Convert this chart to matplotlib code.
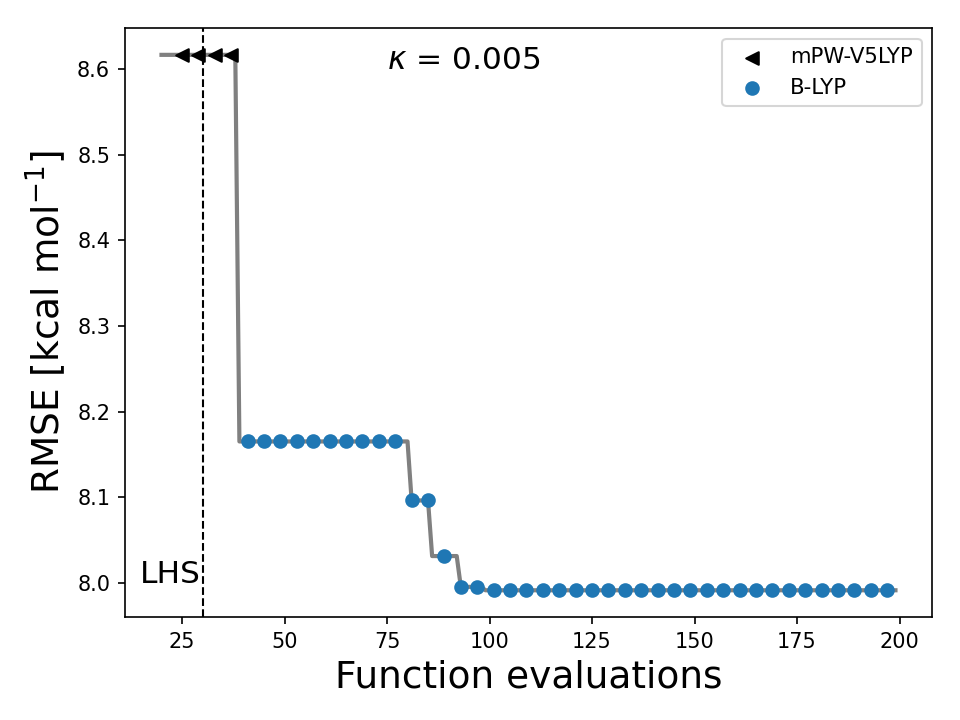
import numpy as np
import matplotlib
matplotlib.use("Agg")
import matplotlib.pyplot as plt

# best-so-far RMSE at each function evaluation (20..199)
evals = list(range(20, 200))
level_starts = [20, 39, 81, 86, 93, 99]
level_values = [8.617, 8.165, 8.096, 8.031, 7.995, 7.991]

rmse = []
for e in evals:
    v = level_values[0]
    for s, val in zip(level_starts, level_values):
        if e >= s:
            v = val
    rmse.append(v)

# markers every 4th evaluation
mpw_x = [25, 29, 33, 37]
blyp_x = list(range(41, 198, 4))

lhs_end = 30
kappa = 0.005

fig, ax = plt.subplots(figsize=(6.4, 4.8), dpi=150)
ax.plot(evals, rmse, color='gray', lw=2, zorder=1)
ax.scatter(mpw_x, [rmse[evals.index(x)] for x in mpw_x], marker='<', color='k',
           label='mPW-V5LYP', zorder=2)
ax.scatter(blyp_x, [rmse[evals.index(x)] for x in blyp_x], marker='o', color='C0',
           label='B-LYP', zorder=2)
ax.axvline(lhs_end, color='k', ls='--', lw=1)
ax.text(lhs_end - 0.5, 8.0, 'LHS', ha='right', fontsize=15)
ax.text(75, 8.6, r'$\kappa$ = %s' % kappa, fontsize=15)
ax.set_xlabel('Function evaluations', fontsize=18)
ax.set_ylabel(r'RMSE [kcal mol$^{-1}$]', fontsize=18)
ax.legend(loc='upper right', fontsize=10.2)
plt.subplots_adjust(left=0.130, right=0.971, top=0.961, bottom=0.143)
plt.savefig('out.png')
